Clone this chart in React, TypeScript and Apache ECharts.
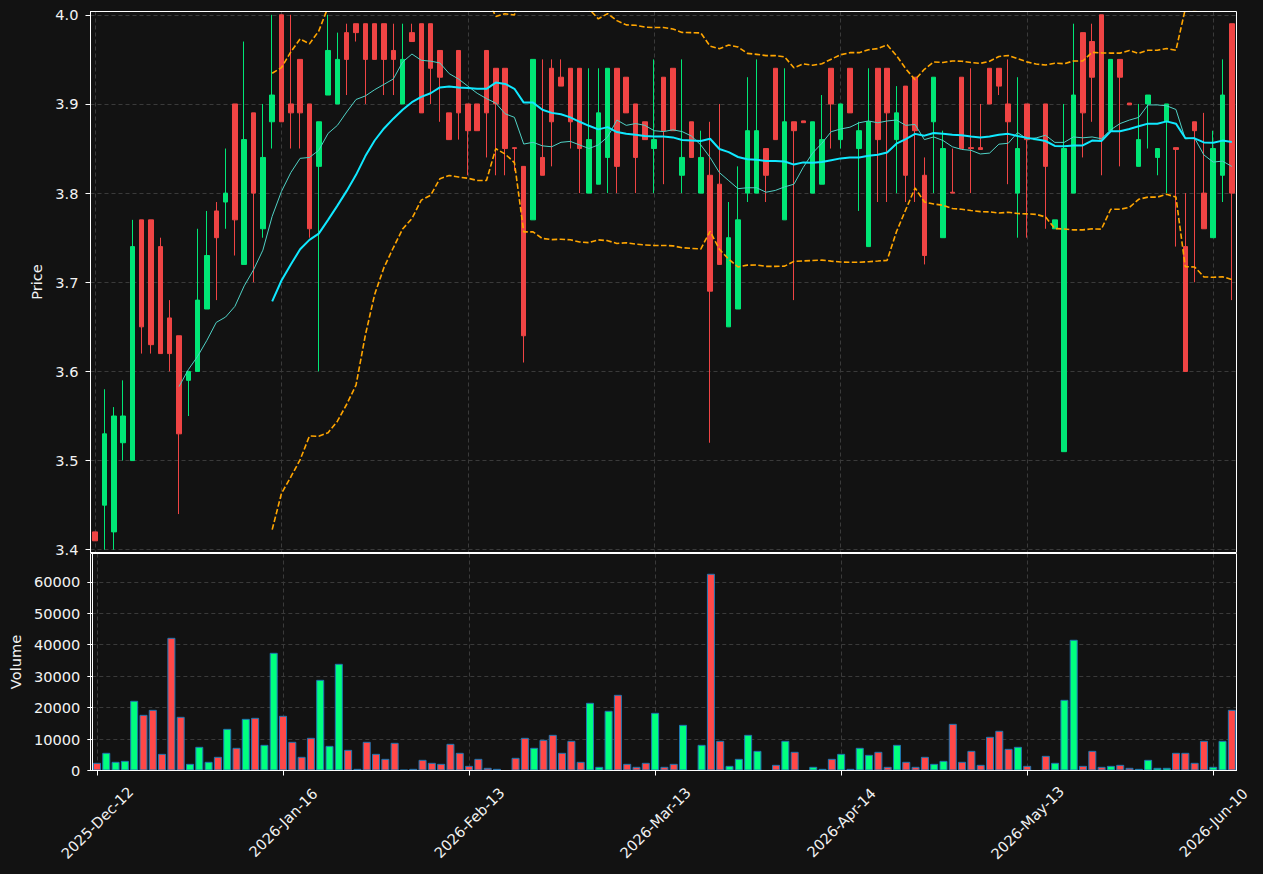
import React, { useEffect, useRef } from "react";
import * as echarts from "echarts";

// ---- data ----
const OPEN = [
  3.42, 3.45, 3.42, 3.52, 3.5, 3.77, 3.77, 3.74, 3.66, 3.64,
  3.59, 3.6, 3.67, 3.78, 3.79, 3.9, 3.72, 3.89, 3.76, 3.88,
  4.0, 3.9, 3.95, 3.9, 3.83, 3.91, 3.9, 3.98, 3.99, 3.99,
  3.99, 3.99, 3.96, 3.9, 3.98, 3.99, 3.99, 3.96, 3.89, 3.96,
  3.9, 3.9, 3.96, 3.94, 3.94, 3.851, 3.83, 3.77, 3.84, 3.94,
  3.93, 3.94, 3.94, 3.8, 3.81, 3.84, 3.94, 3.93, 3.9, 3.88,
  3.85, 3.93, 3.94, 3.82, 3.88, 3.8, 3.82, 3.81, 3.65, 3.67,
  3.8, 3.8, 3.85, 3.94, 3.77, 3.88, 3.881, 3.8, 3.81, 3.94,
  3.86, 3.94, 3.85, 3.74, 3.94, 3.94, 3.86, 3.92, 3.93, 3.82,
  3.88, 3.75, 3.801, 3.93, 3.851, 3.851, 3.94, 3.94, 3.9, 3.8,
  3.9, 3.86, 3.9, 3.76, 3.51, 3.8, 3.98, 3.97, 4.0, 3.87,
  3.95, 3.901, 3.83, 3.9, 3.84, 3.88, 3.851, 3.74, 3.88, 3.8,
  3.75, 3.82, 3.99,
];
const CLOSE = [
  3.41, 3.53, 3.55, 3.55, 3.74, 3.65, 3.63, 3.62, 3.62, 3.53,
  3.6, 3.68, 3.73, 3.75, 3.8, 3.77, 3.86, 3.8, 3.84, 3.91,
  3.88, 3.89, 3.89, 3.76, 3.88, 3.96, 3.95, 3.95, 3.98, 3.95,
  3.95, 3.95, 3.95, 3.95, 3.97, 3.89, 3.94, 3.93, 3.86, 3.89,
  3.87, 3.87, 3.89, 3.9, 3.85, 3.85, 3.64, 3.95, 3.82, 3.88,
  3.92, 3.88, 3.85, 3.86, 3.89, 3.94, 3.83, 3.89, 3.84, 3.86,
  3.86, 3.87, 3.87, 3.84, 3.84, 3.84, 3.69, 3.72, 3.75, 3.77,
  3.87, 3.87, 3.82, 3.86, 3.88, 3.87, 3.879, 3.88, 3.86, 3.9,
  3.9, 3.89, 3.87, 3.88, 3.86, 3.89, 3.89, 3.82, 3.87, 3.73,
  3.93, 3.85, 3.8, 3.85, 3.85, 3.849, 3.9, 3.92, 3.88, 3.85,
  3.86, 3.86, 3.83, 3.77, 3.85, 3.91, 3.89, 3.93, 3.86, 3.95,
  3.93, 3.899, 3.86, 3.91, 3.85, 3.9, 3.849, 3.6, 3.87, 3.76,
  3.85, 3.91, 3.8,
];
const LOW = [
  3.41, 3.4, 3.4, 3.5, 3.5, 3.62, 3.62, 3.62, 3.6, 3.44,
  3.55, 3.6, 3.67, 3.68, 3.76, 3.73, 3.72, 3.7, 3.75, 3.85,
  3.88, 3.85, 3.85, 3.75, 3.6, 3.91, 3.9, 3.91, 3.97, 3.9,
  3.95, 3.91, 3.91, 3.9, 3.97, 3.89, 3.9, 3.88, 3.86, 3.86,
  3.82, 3.87, 3.84, 3.82, 3.82, 3.825, 3.61, 3.77, 3.82, 3.83,
  3.92, 3.85, 3.8, 3.8, 3.81, 3.8, 3.8, 3.89, 3.8, 3.86,
  3.8, 3.81, 3.87, 3.8, 3.84, 3.8, 3.52, 3.72, 3.65, 3.67,
  3.79, 3.8, 3.79, 3.86, 3.77, 3.68, 3.879, 3.8, 3.81, 3.85,
  3.85, 3.89, 3.78, 3.74, 3.79, 3.79, 3.8, 3.79, 3.79, 3.72,
  3.8, 3.75, 3.8, 3.85, 3.8, 3.849, 3.9, 3.91, 3.81, 3.75,
  3.75, 3.86, 3.76, 3.76, 3.51, 3.8, 3.84, 3.88, 3.82, 3.87,
  3.83, 3.899, 3.83, 3.85, 3.82, 3.8, 3.74, 3.6, 3.7, 3.76,
  3.75, 3.79, 3.68,
];
const HIGH = [
  3.42, 3.58, 3.56, 3.59, 3.77, 3.77, 3.77, 3.75, 3.68, 3.64,
  3.6, 3.76, 3.78, 3.79, 3.85, 3.9, 3.97, 3.89, 3.9, 4.0,
  4.0, 4.0, 3.95, 3.9, 3.88, 4.0, 3.98, 3.99, 3.99, 3.99,
  3.99, 3.99, 3.99, 3.99, 3.99, 3.99, 3.99, 3.96, 3.89, 3.96,
  3.9, 3.9, 3.96, 3.94, 3.94, 3.851, 3.83, 3.95, 3.95, 3.95,
  3.95, 3.94, 3.94, 3.94, 3.94, 3.94, 3.94, 3.93, 3.9, 3.88,
  3.95, 3.93, 3.94, 3.95, 3.88, 3.87, 3.88, 3.9, 3.79, 3.83,
  3.93, 3.95, 3.85, 3.94, 3.94, 3.88, 3.881, 3.88, 3.91, 3.94,
  3.9, 3.94, 3.88, 3.94, 3.94, 3.94, 3.92, 3.92, 3.93, 3.84,
  3.93, 3.87, 3.85, 3.93, 3.94, 3.9, 3.94, 3.94, 3.95, 3.93,
  3.9, 3.86, 3.9, 3.77, 3.9, 3.99, 3.98, 3.99, 4.0, 3.95,
  3.95, 3.901, 3.9, 3.91, 3.85, 3.9, 3.851, 3.8, 3.88, 3.89,
  3.87, 3.95, 3.99,
];
const VOLUME = [
  2440, 5620, 2760, 3070, 22160, 17700, 19290, 5300, 42190, 17070,
  2120, 7530, 2760, 4350, 13250, 7210, 16430, 16750, 8160, 37420,
  17390, 9120, 4350, 10390, 28830, 7840, 33920, 6570, 530, 9120,
  5300, 3710, 8800, 200, 530, 3390, 2440, 2120, 8480, 5620,
  1480, 3710, 850, 530, 0, 4030, 10390, 7210, 9750, 11340,
  5620, 9430, 2760, 21520, 1170, 18980, 24060, 2120, 1170, 2440,
  18340, 1170, 2120, 14520, 0, 8160, 62550, 9430, 1480, 3710,
  11340, 6250, 0, 1800, 9430, 5940, 0, 1170, 530, 3710,
  5300, 530, 7210, 4980, 5940, 1170, 8160, 2760, 1170, 4350,
  2120, 3070, 14840, 2760, 6250, 1800, 10710, 12620, 6890, 7530,
  1480, 0, 4660, 2440, 22470, 41560, 1480, 6250, 1170, 1480,
  1800, 850, 530, 3390, 850, 850, 5620, 5620, 2440, 9430,
  1170, 9430, 19290,
];

// trading calendar (categories)
const START_DATE = "2025-12-12";
const HOLIDAYS = [
  "2025-12-24", "2025-12-25", "2025-12-26", "2025-12-31", "2026-01-01",
  "2026-04-03", "2026-04-06", "2026-05-01",
];
const MONTHS = ["Jan", "Feb", "Mar", "Apr", "May", "Jun", "Jul", "Aug", "Sep", "Oct", "Nov", "Dec"];
const LABEL_EVERY = 20;
const MA_SHORT = 10;
const MA_LONG = 20;
const BB_K = 2;

function pad(n: number) {
  return n < 10 ? "0" + n : "" + n;
}
function tradingDays(start: string, count: number, holidays: string[]) {
  const out: string[] = [];
  const d = new Date(start + "T00:00:00Z");
  while (out.length < count) {
    const iso = d.getUTCFullYear() + "-" + pad(d.getUTCMonth() + 1) + "-" + pad(d.getUTCDate());
    const wd = d.getUTCDay();
    if (wd !== 0 && wd !== 6 && holidays.indexOf(iso) < 0) {
      out.push(d.getUTCFullYear() + "-" + MONTHS[d.getUTCMonth()] + "-" + pad(d.getUTCDate()));
    }
    d.setUTCDate(d.getUTCDate() + 1);
  }
  return out;
}
const DATES = tradingDays(START_DATE, CLOSE.length, HOLIDAYS);

function sma(v: number[], n: number) {
  return v.map((_, i) => {
    if (i < n - 1) return null;
    let s = 0;
    for (let j = i - n + 1; j <= i; j++) s += v[j];
    return s / n;
  });
}
function band(v: number[], n: number, k: number, sign: number) {
  const m = sma(v, n);
  return v.map((_, i) => {
    const mean = m[i];
    if (mean === null) return null;
    let s = 0;
    for (let j = i - n + 1; j <= i; j++) s += (v[j] - mean) * (v[j] - mean);
    return mean + sign * k * Math.sqrt(s / n);
  });
}

const FONT = "'DejaVu Sans', 'Noto Sans', sans-serif";
const FONT_SIZE = 14.6;
const TEXT = "#f2f2f2";
const FRAME = "#ffffff";
const GRIDLINE = "#3a3a3a";
const UP = "#00e676";
const DOWN = "#ef4444";
const VUP = "#00ff7f";
const VDOWN = "#ff4848";

// layout
const PLOT_LEFT = 90.5;
const PLOT_WIDTH = 1146;
const PRICE_TOP = 11.5;
const PRICE_HEIGHT = 541;
const VOL_TOP = 553.5;
const VOL_HEIGHT = 217;

const tickEvery = (index: number) => index % LABEL_EVERY === 0;

export default function App() {
  const ref = useRef<HTMLDivElement>(null);
  useEffect(() => {
    if (!ref.current) return;
    const chart = echarts.init(ref.current, null, { renderer: "svg" });
    const splitLine = {
      show: true,
      interval: tickEvery,
      alignWithLabel: true,
      lineStyle: { color: GRIDLINE, type: [4, 3], width: 1 },
    };
    const nameStyle = { color: TEXT, fontSize: FONT_SIZE, fontFamily: FONT };
    const option: any = {
      animation: false,
      backgroundColor: "#121212",
      textStyle: { fontFamily: FONT },
      grid: [
        { left: PLOT_LEFT, top: PRICE_TOP, width: PLOT_WIDTH, height: PRICE_HEIGHT, show: false },
        { left: PLOT_LEFT, top: VOL_TOP, width: PLOT_WIDTH, height: VOL_HEIGHT, show: false },
      ],
      graphic: [
        {
          type: "rect",
          silent: true,
          z: 100,
          shape: { x: PLOT_LEFT, y: PRICE_TOP, width: PLOT_WIDTH, height: PRICE_HEIGHT },
          style: { fill: "none", stroke: FRAME, lineWidth: 1 },
        },
        {
          type: "rect",
          silent: true,
          z: 100,
          shape: { x: PLOT_LEFT, y: VOL_TOP, width: PLOT_WIDTH, height: VOL_HEIGHT },
          style: { fill: "none", stroke: FRAME, lineWidth: 1 },
        },
      ],
      xAxis: [
        {
          type: "category",
          gridIndex: 0,
          data: DATES,
          boundaryGap: true,
          axisLine: { show: false },
          axisTick: { show: false },
          axisLabel: { show: false },
          splitLine,
        },
        {
          type: "category",
          gridIndex: 1,
          data: DATES,
          boundaryGap: true,
          axisLine: { show: true, lineStyle: { color: FRAME, width: 1 } },
          axisTick: { show: true, alignWithLabel: true, interval: tickEvery, length: 5, lineStyle: { color: FRAME } },
          axisLabel: {
            interval: tickEvery,
            rotate: 45,
            align: "center",
            verticalAlign: "middle",
            margin: 52,
            color: TEXT,
            fontSize: FONT_SIZE,
            fontFamily: FONT,
          },
          splitLine,
        },
      ],
      yAxis: [
        {
          type: "value",
          gridIndex: 0,
          min: 3.3969,
          max: 4.0037,
          splitNumber: 6,
          name: "Price",
          nameLocation: "middle",
          nameGap: 42,
          nameRotate: 90,
          nameTextStyle: nameStyle,
          axisLine: { show: true, lineStyle: { color: FRAME } },
          axisTick: { show: true, length: 5, lineStyle: { color: FRAME } },
          axisLabel: {
            color: TEXT,
            fontSize: FONT_SIZE,
            fontFamily: FONT,
            margin: 12,
            showMinLabel: false,
            showMaxLabel: false,
            formatter: (v: number) => v.toFixed(1),
          },
          splitLine: { show: true, lineStyle: { color: GRIDLINE, type: [4, 3], width: 1 } },
        },
        {
          type: "value",
          gridIndex: 1,
          min: 0,
          max: 69000,
          interval: 10000,
          name: "Volume",
          nameLocation: "middle",
          nameGap: 67.5,
          nameRotate: 90,
          nameTextStyle: nameStyle,
          axisLine: { show: true, lineStyle: { color: FRAME } },
          axisTick: { show: true, length: 5, lineStyle: { color: FRAME } },
          axisLabel: {
            color: TEXT,
            fontSize: FONT_SIZE,
            fontFamily: FONT,
            margin: 12,
            showMaxLabel: false,
            formatter: (v: number) => String(Math.round(v)),
          },
          splitLine: { show: true, lineStyle: { color: GRIDLINE, type: [4, 3], width: 1 } },
        },
      ],
      series: [
        {
          type: "candlestick",
          xAxisIndex: 0,
          yAxisIndex: 0,
          barWidth: 5,
          clip: true,
          data: OPEN.map((o, i) => [o, CLOSE[i], LOW[i], HIGH[i]]),
          itemStyle: { color: UP, color0: DOWN, borderColor: UP, borderColor0: DOWN, borderWidth: 1 },
          z: 2,
        },
        {
          type: "line",
          name: "MA10",
          xAxisIndex: 0,
          yAxisIndex: 0,
          data: sma(CLOSE, MA_SHORT),
          showSymbol: false,
          clip: true,
          lineStyle: { color: "#4fd1c5", width: 1 },
          z: 3,
        },
        {
          type: "line",
          name: "MA20",
          xAxisIndex: 0,
          yAxisIndex: 0,
          data: sma(CLOSE, MA_LONG),
          showSymbol: false,
          clip: true,
          lineStyle: { color: "#10e8ff", width: 2 },
          z: 4,
        },
        {
          type: "line",
          name: "BB upper",
          xAxisIndex: 0,
          yAxisIndex: 0,
          data: band(CLOSE, MA_LONG, BB_K, 1),
          showSymbol: false,
          clip: true,
          lineStyle: { color: "#ffa500", width: 1.6, type: [5.5, 2.4] },
          z: 4,
        },
        {
          type: "line",
          name: "BB lower",
          xAxisIndex: 0,
          yAxisIndex: 0,
          data: band(CLOSE, MA_LONG, BB_K, -1),
          showSymbol: false,
          clip: true,
          lineStyle: { color: "#ffa500", width: 1.6, type: [5.5, 2.4] },
          z: 4,
        },
        {
          type: "bar",
          name: "Volume",
          xAxisIndex: 1,
          yAxisIndex: 1,
          barWidth: 8,
          data: VOLUME.map((v, i) => ({
            value: v,
            itemStyle: { color: CLOSE[i] >= OPEN[i] ? VUP : VDOWN },
          })),
          itemStyle: { borderColor: "#1f77b4", borderWidth: 1 },
        },
      ],
    };
    chart.setOption(option);
    return () => chart.dispose();
  }, []);
  return (
    <div
      ref={ref}
      style={{ position: "fixed", left: 0, top: 0, width: 1263, height: 874 }}
    />
  );
}
